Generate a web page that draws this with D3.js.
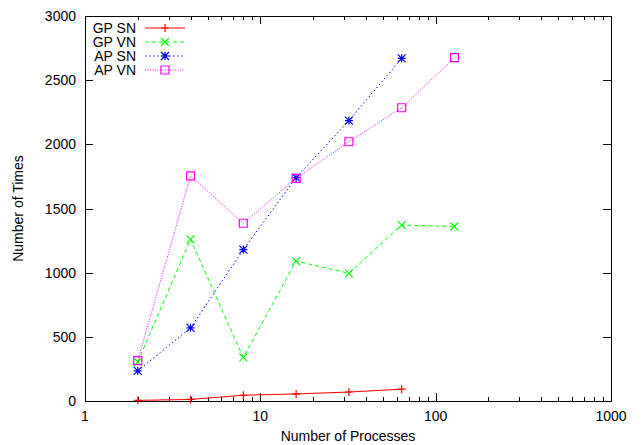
<!DOCTYPE html>
<meta charset="utf-8">
<style>
body { margin: 0; background: #fff; }
svg { display: block; }
text { font-family: "Liberation Sans", Arial, sans-serif; font-size: 14px; fill: #000; }
</style>
<svg width="642" height="445"></svg>
<script src="https://cdn.jsdelivr.net/npm/d3@7"></script>
<script>

var procs = [2, 4, 8, 16, 32, 64, 128]
var gpSN = [5, 12, 45, 55, 70, 92]
var gpVN = [305, 1260, 340, 1090, 995, 1370, 1360]
var apSN = [235, 570, 1180, 1740, 2185, 2670]
var apVN = [315, 1755, 1385, 1735, 2020, 2285, 2675]
var seriesNames = ["GP SN", "GP VN", "AP SN", "AP VN"]
var yTicks = [0, 500, 1000, 1500, 2000, 2500, 3000]
var xTicks = [1, 10, 100, 1000]

var series = [
  {name: seriesNames[0], vals: gpSN, color: "#ff0000", dash: null, mark: "plus"},
  {name: seriesNames[1], vals: gpVN, color: "#00ff00", dash: "4,3", mark: "cross"},
  {name: seriesNames[2], vals: apSN, color: "#0000ff", dash: "1.5,2.5", mark: "star"},
  {name: seriesNames[3], vals: apVN, color: "#ff00ff", dash: "1,1.5", mark: "box"}
]

var pLeft = 85, pRight = 611, pTop = 16, pBottom = 401

var svg = d3.select("svg")

var x = d3.scaleLog().domain([1, 1000]).range([pLeft, pRight])
var y = d3.scaleLinear().domain([0, 3000]).range([pBottom, pTop])

var g = svg.append("g").attr("stroke", "#000").attr("stroke-width", 1)

// minor + major ticks on x (bottom and mirrored top)
var minor = []
for (var dec = 1; dec < 1000; dec *= 10)
  for (var k = 2; k <= 9; k++) minor.push(dec * k)

minor.forEach(function(v) {
  var px = Math.round(x(v)) + 0.5
  g.append("line").attr("x1", px).attr("x2", px).attr("y1", pBottom).attr("y2", pBottom - 4)
  g.append("line").attr("x1", px).attr("x2", px).attr("y1", pTop).attr("y2", pTop + 4)
})
xTicks.forEach(function(v) {
  var px = Math.round(x(v)) + 0.5
  g.append("line").attr("x1", px).attr("x2", px).attr("y1", pBottom).attr("y2", pBottom - 8)
  g.append("line").attr("x1", px).attr("x2", px).attr("y1", pTop).attr("y2", pTop + 8)
  svg.append("text").attr("x", x(v)).attr("y", pBottom + 20).attr("text-anchor", "middle").text(v)
})
yTicks.forEach(function(v) {
  var py = Math.round(y(v)) + 0.5
  g.append("line").attr("x1", pLeft).attr("x2", pLeft + 8).attr("y1", py).attr("y2", py)
  g.append("line").attr("x1", pRight).attr("x2", pRight - 8).attr("y1", py).attr("y2", py)
  svg.append("text").attr("x", pLeft - 9).attr("y", y(v) + 5).attr("text-anchor", "end").text(v)
})

svg.append("rect")
  .attr("x", pLeft + 0.5).attr("y", pTop + 0.5)
  .attr("width", pRight - pLeft).attr("height", pBottom - pTop)
  .attr("fill", "none").attr("stroke", "#000")

svg.append("text").attr("x", (pLeft + pRight) / 2).attr("y", 441).attr("text-anchor", "middle").text("Number of Processes")
svg.append("text").attr("transform", "translate(23," + (pTop + pBottom) / 2 + ") rotate(-90)")
  .attr("text-anchor", "middle").text("Number of Times")

function marker(sel, type, cx, cy, color) {
  var s = 4, p
  if (type == "plus") p = "M" + (cx - s) + "," + cy + "h" + 2 * s + "M" + cx + "," + (cy - s) + "v" + 2 * s
  if (type == "cross") p = "M" + (cx - s) + "," + (cy - s) + "l" + 2 * s + "," + 2 * s + "M" + (cx - s) + "," + (cy + s) + "l" + 2 * s + "," + -2 * s
  if (type == "star") p = "M" + (cx - s) + "," + cy + "h" + 2 * s + "M" + cx + "," + (cy - s) + "v" + 2 * s +
    "M" + (cx - s) + "," + (cy - s) + "l" + 2 * s + "," + 2 * s + "M" + (cx - s) + "," + (cy + s) + "l" + 2 * s + "," + -2 * s
  if (type == "box") p = "M" + (cx - s) + "," + (cy - s) + "h" + 2 * s + "v" + 2 * s + "h" + -2 * s + "Z"
  sel.append("path").attr("d", p).attr("fill", "none").attr("stroke", color).attr("stroke-width", 1.2)
}

var line = d3.line().x(function(d) { return x(d[0]) }).y(function(d) { return y(d[1]) })

series.forEach(function(s, i) {
  var pts = s.vals.map(function(v, j) { return [procs[j], v] })
  svg.append("path").datum(pts).attr("d", line)
    .attr("fill", "none").attr("stroke", s.color).attr("stroke-width", 1)
    .attr("stroke-dasharray", s.dash)
  pts.forEach(function(d) { marker(svg, s.mark, x(d[0]), y(d[1]), s.color) })

  var ly = 28 + i * 14
  svg.append("text").attr("x", 136).attr("y", ly + 5).attr("text-anchor", "end").text(s.name)
  svg.append("line").attr("x1", 145).attr("x2", 185).attr("y1", ly).attr("y2", ly)
    .attr("stroke", s.color).attr("stroke-width", 1).attr("stroke-dasharray", s.dash)
  marker(svg, s.mark, 165, ly, s.color)
})
</script>
